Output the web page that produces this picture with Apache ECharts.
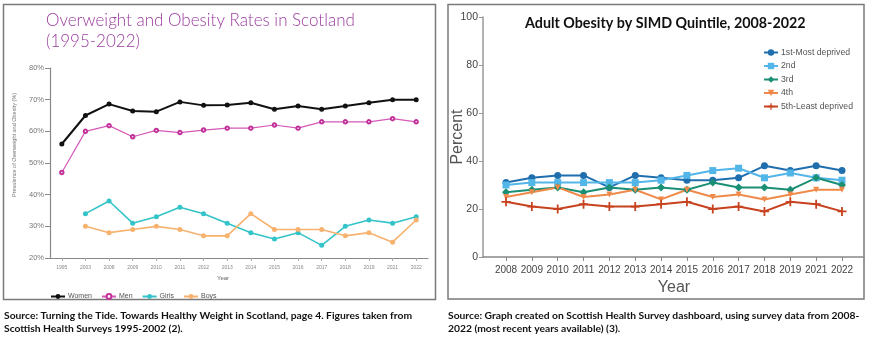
<!DOCTYPE html>
<html>
<head>
<meta charset="utf-8">
<script src="https://cdn.jsdelivr.net/npm/echarts@6/dist/echarts.min.js"></script>
<style>
html,body{margin:0;padding:0;background:#fff;}
#c{width:870px;height:338px;}
</style>
</head>
<body>
<div id="c"></div>
<script>
// ---- Left chart data ----
const leftYears = ['1995','2003','2008','2009','2010','2011','2012','2013','2014','2015','2016','2017','2018','2019','2021','2022'];
const women = [56, 65, 68.6, 66.4, 66.2, 69.3, 68.2, 68.3, 69, 67, 68, 67, 68, 69, 70, 70];
const men   = [47, 60, 61.8, 58.3, 60.3, 59.6, 60.4, 61, 61, 62, 61, 63, 63, 63, 64, 63];
const girls = [null, 34, 38, 31, 33, 36, 34, 31, 28, 26, 28, 24, 30, 32, 31, 33];
const boys  = [null, 30, 28, 29, 30, 29, 27, 27, 34, 29, 29, 29, 27, 28, 25, 32];
const leftTicks = [20, 30, 40, 50, 60, 70, 80];

// ---- Right chart data ----
const rightYears = ['2008','2009','2010','2011','2012','2013','2014','2015','2016','2017','2018','2019','2021','2022'];
const q1 = [31, 33, 34, 34, 29, 34, 33, 32, 32, 33, 38, 36, 38, 36];
const q2 = [30, 31, 31, 31, 31, 31, 32, 34, 36, 37, 33, 35, 33, 32];
const q3 = [27, 28, 29, 27, 29, 28, 29, 28, 31, 29, 29, 28, 33, 30];
const q4 = [25, 27, 29, 25, 26, 28, 24, 28, 25, 26, 24, 26, 28, 28];
const q5 = [23, 21, 20, 22, 21, 21, 22, 23, 20, 21, 19, 23, 22, 19];
const rightTicks = [0, 20, 40, 60, 80, 100];

const narrow = "'Liberation Sans Narrow','Liberation Sans',sans-serif";
const plus = 'path://M4,0H6V4H10V6H6V10H4V6H0V4H4Z';

const chart = echarts.init(document.getElementById('c'));
const option = {
  animation: false,
  backgroundColor: '#fff',
  title: [
    { text: 'Overweight and Obesity Rates in Scotland\n(1995-2022)', left: 41, top: 5,
      textStyle: { fontFamily: 'Lato', fontWeight: 300, fontSize: 17, lineHeight: 21, color: '#9b3c9e' } },
    { text: 'Adult Obesity by SIMD Quintile, 2008-2022', left: 520, top: 11,
      textStyle: { fontFamily: 'Lato', fontWeight: 'bold', fontSize: 14.3, color: '#111' } },
    { text: 'Source: Turning the Tide. Towards Healthy Weight in Scotland, page 4. Figures taken from\nScottish Health Surveys 1995-2002 (2).', left: -1, top: 304,
      textStyle: { fontFamily: 'Lato', fontWeight: 'bold', fontSize: 10.3, lineHeight: 13, color: '#111' } },
    { text: 'Source: Graph created on Scottish Health Survey dashboard, using survey data from 2008-\n2022 (most recent years available) (3).', left: 443, top: 304,
      textStyle: { fontFamily: 'Lato', fontWeight: 'bold', fontSize: 10.3, lineHeight: 13, color: '#111' } }
  ],
  graphic: [
    { type: 'rect', shape: { x: 3.5, y: 4.5, width: 432, height: 295 }, style: { fill: 'none', stroke: '#7a7a7a', lineWidth: 1.5 } },
    { type: 'rect', shape: { x: 448, y: 4.5, width: 416, height: 294.5 }, style: { fill: 'none', stroke: '#7a7a7a', lineWidth: 1.5 } }
  ],
  legend: [
    { data: ['Women', 'Men', 'Girls', 'Boys'], left: 45, top: 288, itemWidth: 14, itemHeight: 6, itemGap: 9,
      textStyle: { fontSize: 7, color: '#555', padding: [0, 0, 0, -2] } },
    { data: ['1st-Most deprived', '2nd', '3rd', '4th', '5th-Least deprived'], orient: 'vertical', left: 758, top: 43,
      itemWidth: 14, itemHeight: 8, itemGap: 4.5,
      textStyle: { fontFamily: narrow, fontSize: 8.7, color: '#555', padding: [0, 0, 0, -2] } }
  ],
  grid: [
    { left: 50, right: 442, top: 68, bottom: 80 },
    { left: 483, right: 6, top: 17, bottom: 81 },
    { left: 506, right: 28, top: 17, bottom: 81 }
  ],
  xAxis: [
    { gridIndex: 0, type: 'category', data: leftYears, boundaryGap: true,
      name: 'Year', nameLocation: 'middle', nameGap: 17, nameMoveOverlap: false,
      nameTextStyle: { fontSize: 6, color: '#666', padding: [0, 32, 0, 0] },
      axisLine: { lineStyle: { color: '#888', width: 1.2 } },
      axisTick: { show: true, alignWithLabel: true, length: 3, lineStyle: { color: '#aaa' } },
      axisLabel: { interval: 0, fontSize: 5, color: '#888', margin: 7 } },
    { gridIndex: 1, type: 'value', min: 0, max: 1,
      axisLine: { show: true, lineStyle: { color: '#888', width: 1.5 } },
      axisTick: { show: false }, axisLabel: { show: false }, splitLine: { show: false } },
    { gridIndex: 2, type: 'category', data: rightYears, boundaryGap: false,
      name: 'Year', nameLocation: 'middle', nameGap: 23, nameMoveOverlap: false,
      nameTextStyle: { fontFamily: narrow, fontSize: 16, color: '#555' },
      axisLine: { show: false },
      axisTick: { show: true, length: 4, lineStyle: { color: '#888' } },
      axisLabel: { interval: 0, fontFamily: narrow, fontSize: 10, color: '#444', margin: 8 } }
  ],
  yAxis: [
    { gridIndex: 0, type: 'value', min: leftTicks[0], max: leftTicks[leftTicks.length - 1], interval: 10,
      name: 'Prevalence of Overweight and Obesity (%)', nameLocation: 'middle', nameGap: 33, nameMoveOverlap: false,
      nameTextStyle: { fontSize: 5.5, color: '#777', padding: [0, 0, 0, 36] },
      axisLine: { show: true, lineStyle: { color: '#888', width: 1.2 } },
      axisTick: { show: true, length: 5, lineStyle: { color: '#888' } },
      axisLabel: { formatter: '{value}%', fontSize: 7.5, color: '#777', margin: 6 },
      splitLine: { show: false } },
    { gridIndex: 1, type: 'value', min: rightTicks[0], max: rightTicks[rightTicks.length - 1], interval: 20,
      name: 'Percent', nameLocation: 'middle', nameGap: 17, nameMoveOverlap: false,
      nameTextStyle: { fontFamily: narrow, fontSize: 16, color: '#555' },
      axisLine: { show: true, lineStyle: { color: '#999', width: 1.5 } },
      axisTick: { show: true, length: 4, lineStyle: { color: '#999' } },
      axisLabel: { fontFamily: narrow, fontSize: 10.5, color: '#444', margin: 5 },
      splitLine: { show: false } },
    { gridIndex: 2, type: 'value', min: 0, max: 100, show: false, splitLine: { show: false } }
  ],
  series: [
    { name: 'Women', type: 'line', xAxisIndex: 0, yAxisIndex: 0, data: women, symbol: 'circle', symbolSize: 5,
      lineStyle: { color: '#111', width: 2 }, itemStyle: { color: '#111' } },
    { name: 'Men', type: 'line', xAxisIndex: 0, yAxisIndex: 0, data: men, symbol: 'emptyCircle', symbolSize: 3.5,
      lineStyle: { color: '#d659b8', width: 1.2 }, itemStyle: { color: '#c2319a', borderWidth: 1 } },
    { name: 'Girls', type: 'line', xAxisIndex: 0, yAxisIndex: 0, data: girls, symbol: 'circle', symbolSize: 5,
      lineStyle: { color: '#33c3c8', width: 1.6 }, itemStyle: { color: '#33c3c8' } },
    { name: 'Boys', type: 'line', xAxisIndex: 0, yAxisIndex: 0, data: boys, symbol: 'circle', symbolSize: 5,
      lineStyle: { color: '#f6b26e', width: 1.6 }, itemStyle: { color: '#f6b26e' } },

    { name: '1st-Most deprived', type: 'line', xAxisIndex: 2, yAxisIndex: 2, data: q1, symbol: 'circle', symbolSize: 7,
      lineStyle: { color: '#1f6fae', width: 2 }, itemStyle: { color: '#1f6fae' } },
    { name: '2nd', type: 'line', xAxisIndex: 2, yAxisIndex: 2, data: q2, symbol: 'rect', symbolSize: 7,
      lineStyle: { color: '#53b6e9', width: 2 }, itemStyle: { color: '#53b6e9' } },
    { name: '3rd', type: 'line', xAxisIndex: 2, yAxisIndex: 2, data: q3, symbol: 'diamond', symbolSize: 8,
      lineStyle: { color: '#1b8f74', width: 2 }, itemStyle: { color: '#1b8f74' } },
    { name: '4th', type: 'line', xAxisIndex: 2, yAxisIndex: 2, data: q4, symbol: 'triangle', symbolRotate: 180, symbolSize: 6,
      lineStyle: { color: '#ef8a4b', width: 2 }, itemStyle: { color: '#ef8a4b' } },
    { name: '5th-Least deprived', type: 'line', xAxisIndex: 2, yAxisIndex: 2, data: q5, symbol: plus, symbolSize: 9,
      lineStyle: { color: '#c7431f', width: 2 }, itemStyle: { color: '#c7431f' } }
  ]
};
chart.setOption(option);
</script>
</body>
</html>
